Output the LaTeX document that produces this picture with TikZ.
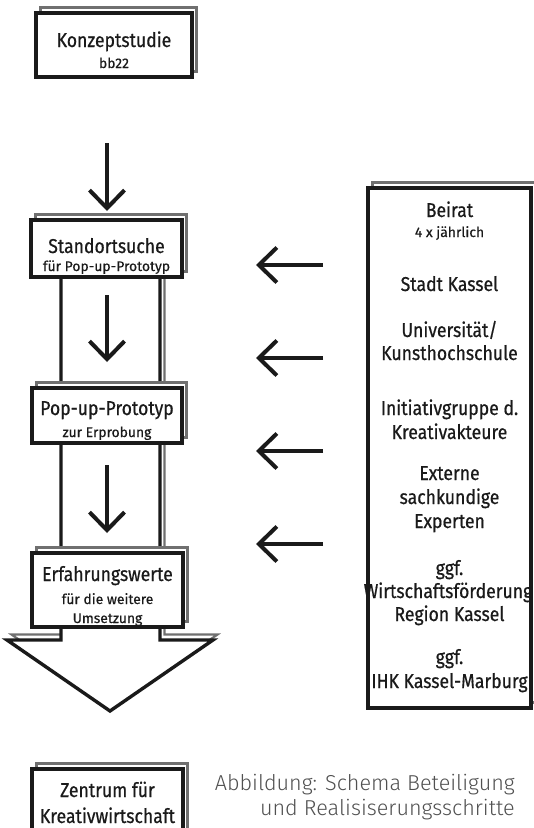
\documentclass[tikz,border=0pt]{standalone}
\usepackage{fontspec}
\setmainfont[FakeStretch=0.88, FakeBold=0.6]{Fira Sans}
\newfontfamily\smallfont[FakeBold=0.5]{Fira Sans}
\newfontfamily\caplight{Fira Sans Light}
\usetikzlibrary{shadows,arrows.meta}
\definecolor{ink}{HTML}{1A1A1A}
\definecolor{shade}{HTML}{707070}
\definecolor{captxt}{HTML}{505050}
\tikzset{
  card/.style={draw=ink, line width=3.4pt, fill=white, inner sep=0pt,
    copy shadow={shadow xshift=4.5pt, shadow yshift=5.5pt, draw=shade, line width=2.2pt, fill=white}},
  big/.style={font=\fontsize{20}{24}\selectfont, text=ink, inner sep=0pt, anchor=base},
  small/.style={font=\smallfont\fontsize{13.9}{17}\selectfont, text=ink, inner sep=0pt, anchor=base},
  flow/.style={draw=ink, line width=4pt, -{Straight Barb[length=18pt,width=35pt]}},
  captionstyle/.style={font=\caplight\fontsize{21.6}{26}\selectfont, text=captxt, inner sep=0pt, anchor=base east},
}
\begin{document}
\begin{tikzpicture}[x=1pt,y=-1pt]
\useasboundingbox (0,0) rectangle (534,828);
% big outline arrow
\path[card, miter limit=10] (61,250) -- (61,640) -- (7,640) -- (110,711) -- (213,640) -- (160,640) -- (160,250) -- cycle;
% boxes
\node[card, minimum width=156pt, minimum height=64pt] (kbox) at (114,45) {};
\node[card, minimum width=151pt, minimum height=57pt] (sbox) at (106.5,248.5) {};
\node[card, minimum width=150pt, minimum height=55pt] (pbox) at (107,415.5) {};
\node[card, minimum width=151pt, minimum height=74pt] (ebox) at (107.5,590) {};
\node[card, minimum width=151pt, minimum height=71pt] (zbox) at (107.5,804.5) {};
\node[card, minimum width=163pt, minimum height=520pt] (bbox) at (449.5,448) {};
% texts left column
\node[big] (t1) at (114,47) {Konzeptstudie};
\node[small] (t2) at (114,68) {bb22};
\node[big] (t3) at (106.5,253) {Standortsuche};
\node[small] (t4) at (106.5,271) {für Pop-up-Prototyp};
\node[big] (t5) at (107,415) {Pop-up-Prototyp};
\node[small] (t6) at (107,437) {zur Erprobung};
\node[big] (t7) at (107.5,581) {Erfahrungswerte};
\node[small] (t8) at (107.5,604) {für die weitere};
\node[small] (t9) at (107.5,623) {Umsetzung};
\node[big] (t10) at (107.5,797) {Zentrum für};
\node[big] (t11) at (107.5,823) {Kreativwirtschaft};
% texts right box
\node[big] (r1) at (449.5,217) {Beirat};
\node[small] (r2) at (449.5,237) {4 x jährlich};
\node[big] (r3) at (449.5,291) {Stadt Kassel};
\node[big] (r4) at (449.5,337) {Universität/};
\node[big] (r5) at (449.5,360) {Kunsthochschule};
\node[big] (r6) at (449.5,415) {Initiativgruppe d.};
\node[big] (r7) at (449.5,439) {Kreativakteure};
\node[big] (r8) at (449.5,480) {Externe};
\node[big] (r9) at (449.5,504) {sachkundige};
\node[big] (r10) at (449.5,528) {Experten};
\node[big] (r11) at (449.5,575) {ggf.};
\node[big] (r12) at (448,598) {Wirtschaftsförderung};
\node[big] (r13) at (449.5,621) {Region Kassel};
\node[big] (r14) at (449.5,664) {ggf.};
\node[big] (r15) at (449.5,688) {IHK Kassel-Marburg};
% caption
\node[captionstyle] (c1) at (515,790) {Abbildung: Schema Beteiligung};
\node[captionstyle] (c2) at (515,815) {und Realisiserungsschritte};
% down arrows
\coordinate (d1s) at (107,143); \coordinate (d1e) at (107,211);
\coordinate (d2s) at (107,295); \coordinate (d2e) at (107,362);
\coordinate (d3s) at (107,465); \coordinate (d3e) at (107,533);
\draw[flow] (d1s) -- (d1e);
\draw[flow] (d2s) -- (d2e);
\draw[flow] (d3s) -- (d3e);
% left arrows
\foreach \y [count=\i] in {265,358,451,544}{
  \coordinate (l\i s) at (323,\y); \coordinate (l\i e) at (256,\y);
  \draw[flow] (l\i s) -- (l\i e);
}
\end{tikzpicture}
\end{document}
